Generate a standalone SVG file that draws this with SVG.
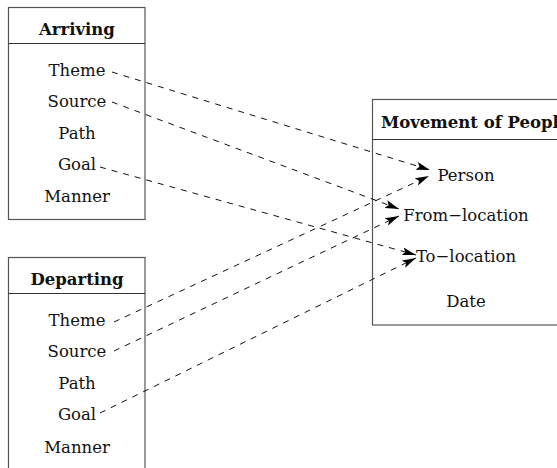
<svg xmlns="http://www.w3.org/2000/svg" width="557" height="468" viewBox="0 0 557 468">
<defs>
<style>
.box{fill:#fff;stroke:#555;stroke-width:1.2}
.sep{stroke:#333;stroke-width:1.2}
text{font-family:"DejaVu Serif","Liberation Serif",serif;font-size:16.5px;fill:#111}
.t{font-weight:bold}
.c{text-anchor:middle}
.e{fill:none;stroke:#111;stroke-width:1;stroke-dasharray:6 6}
</style>
<marker id="ah" markerWidth="15" markerHeight="8" refX="14" refY="4" orient="auto" markerUnits="userSpaceOnUse">
<path d="M0,0 L14,4 L0,8 L3,4 z" fill="#000"/>
</marker>
</defs>
<rect width="557" height="468" fill="#fff"/>
<g id="arriving">
<rect class="box" x="8.5" y="7.5" width="136.5" height="212"/>
<line class="sep" x1="8.5" y1="43.5" x2="145" y2="43.5"/>
<text class="t c" x="77" y="35">Arriving</text>
<text class="c" x="77" y="76">Theme</text>
<text class="c" x="77" y="107">Source</text>
<text class="c" x="77" y="139">Path</text>
<text class="c" x="77" y="170">Goal</text>
<text class="c" x="77" y="202">Manner</text>
</g>
<g id="departing">
<rect class="box" x="8.5" y="257.5" width="136.5" height="215"/>
<line class="sep" x1="8.5" y1="293.5" x2="145" y2="293.5"/>
<text class="t c" x="77" y="285">Departing</text>
<text class="c" x="77" y="326">Theme</text>
<text class="c" x="77" y="357">Source</text>
<text class="c" x="77" y="389">Path</text>
<text class="c" x="77" y="420">Goal</text>
<text class="c" x="77" y="453">Manner</text>
</g>
<g id="movement">
<rect class="box" x="372.5" y="99.5" width="200" height="225.5"/>
<line class="sep" x1="372.5" y1="139.5" x2="572" y2="139.5"/>
<text class="t" x="381" y="128">Movement of People</text>
<text class="c" x="466" y="181">Person</text>
<text class="c" x="466" y="221">From−location</text>
<text class="c" x="466" y="262">To−location</text>
<text class="c" x="466" y="307">Date</text>
</g>
<g id="connectors">
<line class="e" x1="112" y1="72" x2="430" y2="170" marker-end="url(#ah)"/>
<line class="e" x1="112" y1="102" x2="399" y2="209" marker-end="url(#ah)"/>
<line class="e" x1="100" y1="167" x2="416" y2="255" marker-end="url(#ah)"/>
<line class="e" x1="114" y1="322" x2="429" y2="176" marker-end="url(#ah)"/>
<line class="e" x1="114" y1="351" x2="399" y2="216" marker-end="url(#ah)"/>
<line class="e" x1="100" y1="413" x2="416" y2="258" marker-end="url(#ah)"/>
</g>
</svg>
